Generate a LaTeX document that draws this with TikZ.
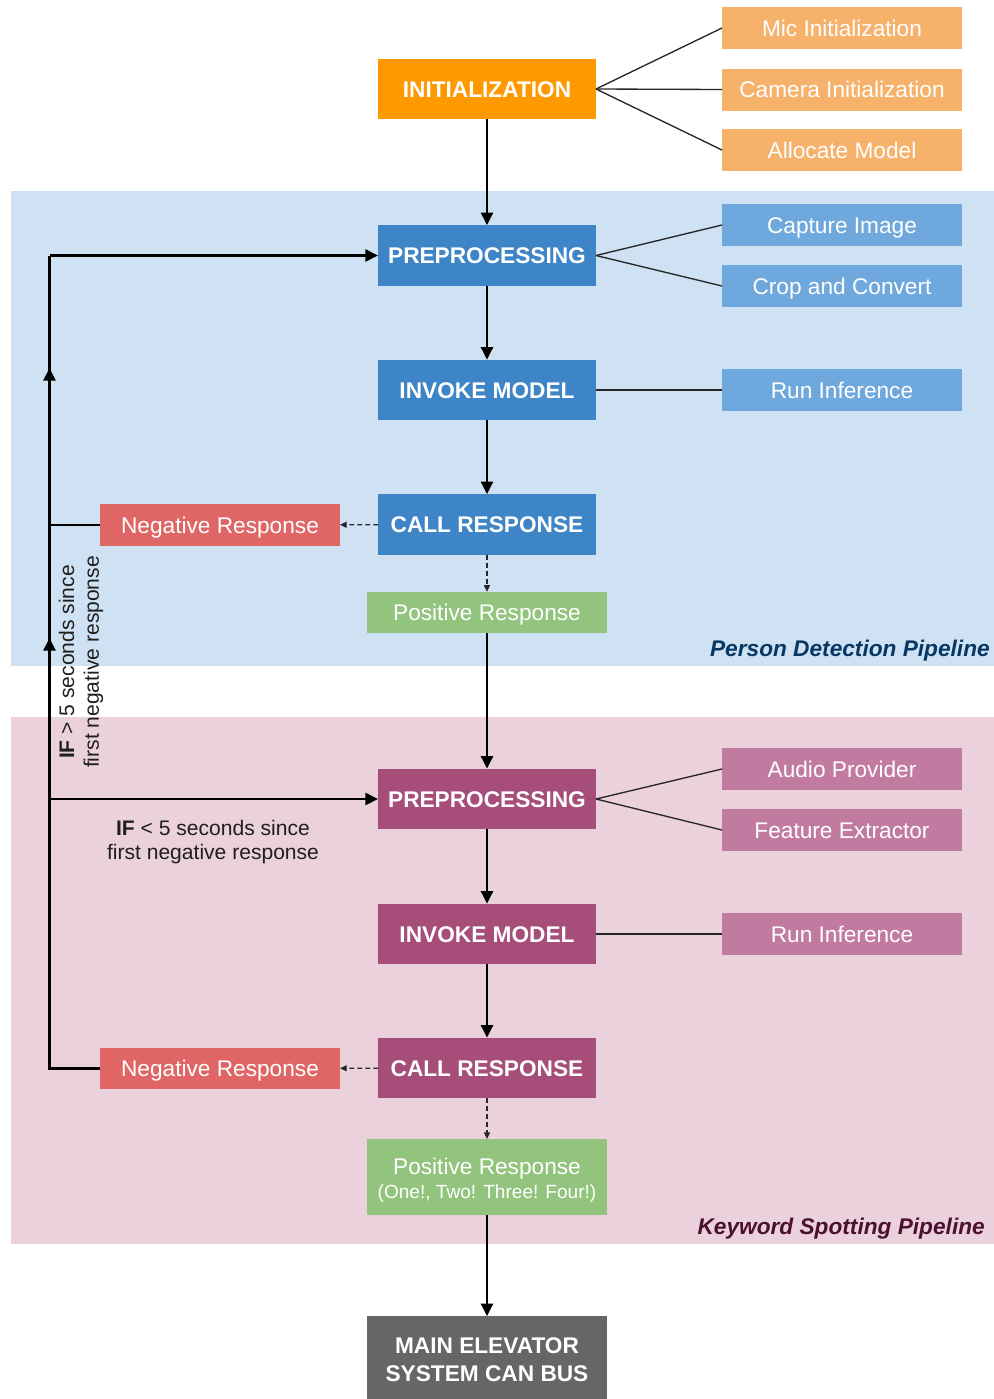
\documentclass[tikz,border=0pt]{standalone}
\usepackage{fontspec}
\setmainfont{Liberation Sans}
\usetikzlibrary{arrows.meta}
\definecolor{bgblue}{HTML}{CFE2F3}
\definecolor{bgpink}{HTML}{EAD1DC}
\definecolor{mainblue}{HTML}{3D85C6}
\definecolor{subblue}{HTML}{6FA8DC}
\definecolor{mainmag}{HTML}{A64D79}
\definecolor{submag}{HTML}{C27BA0}
\definecolor{mainorange}{HTML}{FF9900}
\definecolor{suborange}{HTML}{F6B26B}
\definecolor{negred}{HTML}{E06666}
\definecolor{posgreen}{HTML}{93C47D}
\definecolor{darkgrey}{HTML}{666666}
\definecolor{pdlabel}{HTML}{073763}
\definecolor{kslabel}{HTML}{4C1130}
\definecolor{labeltext}{HTML}{1F1F1F}
\begin{document}
\begin{tikzpicture}[x=0.75pt,y=-0.75pt,
  bx/.style={inner sep=0pt, outer sep=0pt, text=white, align=center},
  onel/.style={text height=12.2pt, text depth=0pt},
  bigbx/.style={bx, onel, minimum width=163.5pt, minimum height=45.5pt, font=\fontsize{17}{20}\selectfont\bfseries},
  subbx/.style={bx, onel, minimum width=180pt, minimum height=31.5pt, font=\fontsize{17}{20}\selectfont},
  flowarrow/.style={line width=2pt, line join=miter, -{Triangle[length=9.5pt,width=9pt]}},
  thickline/.style={line width=2pt, line join=miter},
  linkline/.style={line width=1pt, draw=black!85},
  dasharrow/.style={line width=0.9pt, draw=black!85, dash pattern=on 3.5pt off 2.5pt, -{Triangle[length=5pt,width=4.5pt]}},
  condlabel/.style={inner sep=0pt, align=center, text=labeltext, font=\fontsize{15.8}{18.5}\selectfont},
  pipelabel/.style={inner sep=0pt, anchor=east, onel, font=\fontsize{17}{20}\selectfont\bfseries\itshape}
]
\useasboundingbox (0,0) rectangle (994,1399);
% backgrounds
\fill[bgblue] (11,191) rectangle (994,666);
\fill[bgpink] (11,717) rectangle (994,1244);

% initialization
\node[bigbx, fill=mainorange] (init) at (487,89) {INITIALIZATION};
\node[subbx, fill=suborange] (mic) at (842,28) {Mic Initialization};
\node[subbx, fill=suborange] (cam) at (842,89.5) {Camera Initialization};
\node[subbx, fill=suborange] (alloc) at (842,150) {Allocate Model};

% person detection
\node[bigbx, fill=mainblue] (pre1) at (487,255.5) {PREPROCESSING};
\node[subbx, fill=subblue] (capt) at (842,225) {Capture Image};
\node[subbx, fill=subblue] (crop) at (842,286) {Crop and Convert};
\node[bigbx, fill=mainblue] (inv1) at (487,390) {INVOKE MODEL};
\node[subbx, fill=subblue] (run1) at (842,390) {Run Inference};
\node[bigbx, fill=mainblue] (call1) at (487,524.5) {CALL RESPONSE};
\node[subbx, fill=negred, minimum height=31pt] (neg1) at (220,525) {Negative Response};
\node[subbx, fill=posgreen, minimum height=31pt] (pos1) at (487,612.5) {Positive Response};
\node[pipelabel, text=pdlabel] (pdl) at (990,648) {Person Detection Pipeline};

% keyword spotting
\node[bigbx, fill=mainmag] (pre2) at (487,799) {PREPROCESSING};
\node[subbx, fill=submag] (audio) at (842,769) {Audio Provider};
\node[subbx, fill=submag] (feat) at (842,830) {Feature Extractor};
\node[bigbx, fill=mainmag] (inv2) at (487,934) {INVOKE MODEL};
\node[subbx, fill=submag] (run2) at (842,934) {Run Inference};
\node[bigbx, fill=mainmag] (call2) at (487,1068) {CALL RESPONSE};
\node[subbx, fill=negred, minimum height=31pt] (neg2) at (220,1068.5) {Negative Response};
\node[bx, fill=posgreen, minimum width=180pt, minimum height=57pt, font=\fontsize{17}{18.5}\selectfont] (pos2) at (487,1177)
  {\rule{0pt}{17pt}Positive Response\\{\fontsize{14.3}{16}\selectfont (One!, Two! Three! Four!)}};
\node[pipelabel, text=kslabel] (ksl) at (985,1226) {Keyword Spotting Pipeline};

% output
\node[bx, fill=darkgrey, minimum width=180pt, minimum height=65pt, font=\fontsize{17}{21}\selectfont\bfseries] (main) at (487,1359.5)
  {MAIN ELEVATOR\\SYSTEM CAN BUS};

% condition labels
\node[condlabel, rotate=90] (cond1) at (81,662) {\textbf{IF} > 5 seconds since\\first negative response};
\node[condlabel] (cond2) at (213,842) {\textbf{IF} < 5 seconds since\\first negative response};

% sub-task links
\draw[linkline] (init.east) -- (mic.west);
\draw[linkline] (init.east) -- (cam.west);
\draw[linkline] (init.east) -- (alloc.west);
\draw[linkline] (pre1.east) -- (capt.west);
\draw[linkline] (pre1.east) -- (crop.west);
\draw[linkline] (inv1.east) -- (run1.west);
\draw[linkline] (pre2.east) -- (audio.west);
\draw[linkline] (pre2.east) -- (feat.west);
\draw[linkline] (inv2.east) -- (run2.west);

% main flow
\draw[flowarrow] (init) -- (pre1);
\draw[flowarrow] (pre1) -- (inv1);
\draw[flowarrow] (inv1) -- (call1);
\draw[dasharrow] (call1) -- (pos1);
\draw[dasharrow] (call1) -- (neg1);
\draw[flowarrow] (pos1) -- (pre2);
\draw[flowarrow] (pre2) -- (inv2);
\draw[flowarrow] (inv2) -- (call2);
\draw[dasharrow] (call2) -- (pos2);
\draw[dasharrow] (call2) -- (neg2);
\draw[flowarrow] (pos2) -- (main);

% feedback loop
\coordinate (lb) at (49.5,1068.5);
\coordinate (lt) at (49.5,255.5);
\coordinate (lm1) at (49.5,525);
\coordinate (lm2) at (49.5,799);
\coordinate (up1s) at (49.5,392);
\coordinate (up1e) at (49.5,368);
\coordinate (up2s) at (49.5,662);
\coordinate (up2e) at (49.5,638);
\draw[thickline] (neg2.west) -- (lb) -- (lt);
\draw[flowarrow] (lt) -- (pre1.west);
\draw[thickline] (neg1.west) -- (lm1);
\draw[flowarrow] (lm2) -- (pre2.west);
\draw[flowarrow] (up1s) -- (up1e);
\draw[flowarrow] (up2s) -- (up2e);
\end{tikzpicture}
\end{document}
